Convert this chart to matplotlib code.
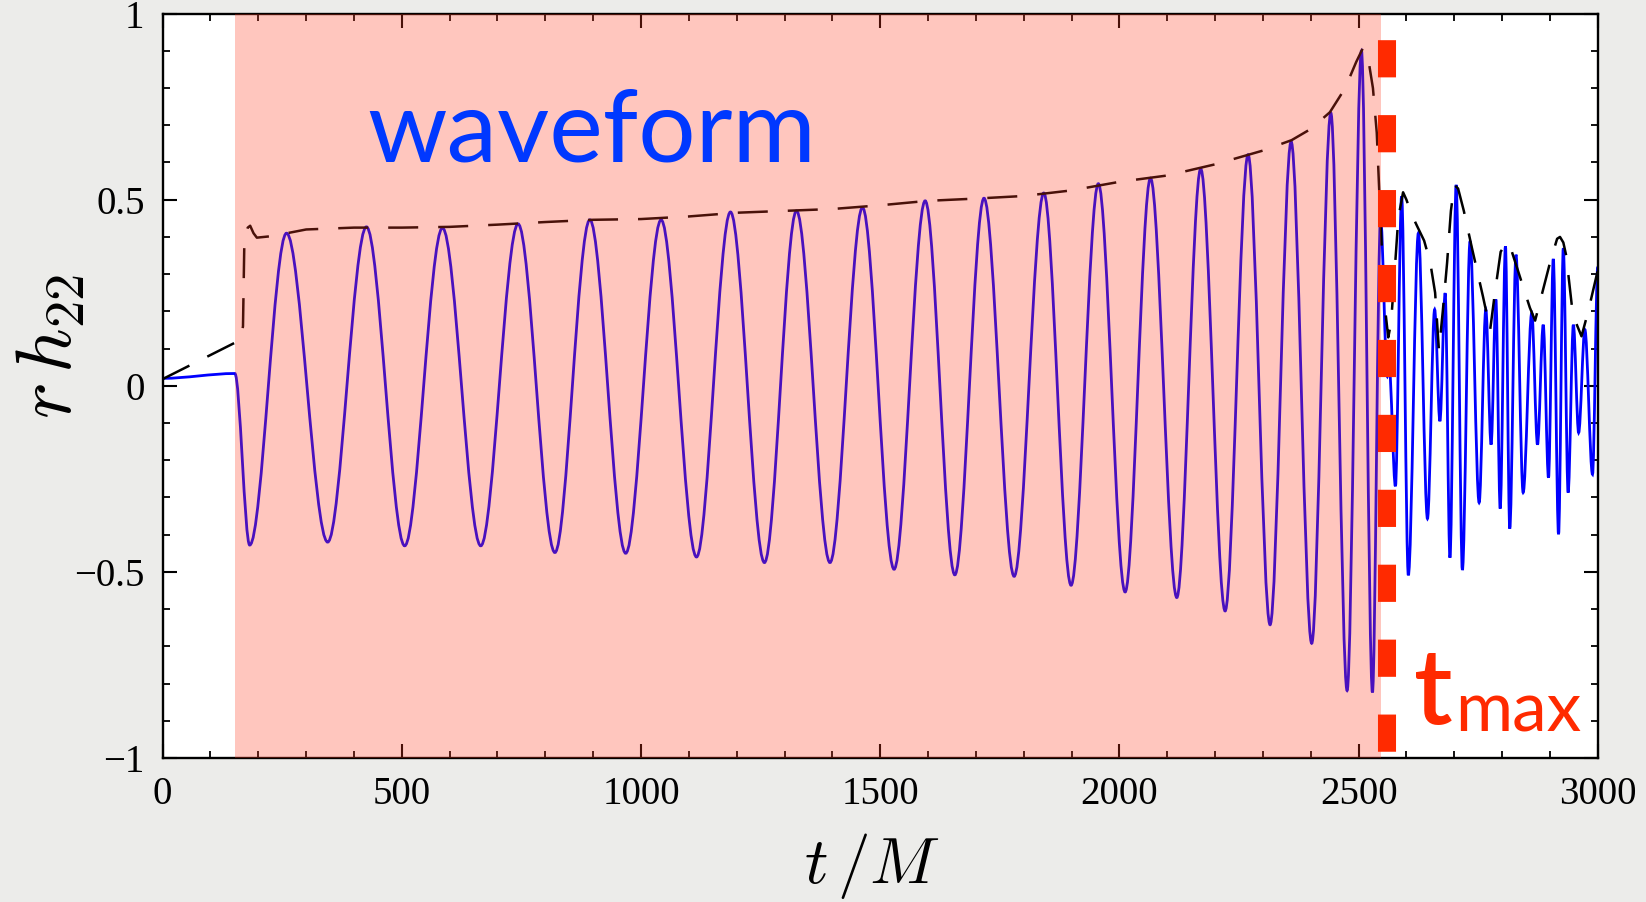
import numpy as np
import matplotlib
matplotlib.use("Agg")
import matplotlib.pyplot as plt
from matplotlib.path import Path
from matplotlib.patches import PathPatch

# rh22 waveform: turning points (t/M, amplitude), joined by smooth curves
wave_t = [0, 151, 182, 259, 345, 426, 506, 585, 665, 743, 820, 893, 968, 1042,
          1116, 1187, 1258, 1325, 1395, 1463, 1529, 1594, 1656, 1717, 1780, 1842,
          1899, 1956, 2012, 2065, 2120, 2170, 2221, 2269, 2315, 2359, 2402, 2442,
          2476, 2506, 2529, 2546, 2560, 2564, 2577, 2590, 2604, 2625, 2644, 2659,
          2670, 2681, 2691, 2704, 2717, 2733, 2752, 2766, 2777, 2787, 2796, 2807,
          2816, 2829, 2844, 2862, 2874, 2886, 2897, 2907, 2918, 2928, 2938, 2949,
          2960, 2973, 2989, 3000]
wave_h = [0.020, 0.033, -0.428, 0.410, -0.420, 0.427, -0.430, 0.424, -0.430, 0.435,
          -0.448, 0.446, -0.450, 0.446, -0.460, 0.467, -0.475, 0.470, -0.475, 0.479,
          -0.493, 0.497, -0.508, 0.504, -0.512, 0.518, -0.536, 0.543, -0.554, 0.558,
          -0.569, 0.583, -0.605, 0.621, -0.642, 0.656, -0.692, 0.733, -0.819, 0.900,
          -0.824, 0.450, 0.025, 0.050, -0.270, 0.509, -0.509, 0.410, -0.357, 0.205,
          -0.095, 0.249, -0.462, 0.540, -0.495, 0.388, -0.314, 0.205, -0.158, 0.232,
          -0.330, 0.375, -0.384, 0.352, -0.287, 0.196, -0.158, 0.164, -0.247, 0.341,
          -0.399, 0.370, -0.287, 0.164, -0.126, 0.151, -0.238, 0.320]

# amplitude envelope |rh22|
env_t = [0, 150, 163, 168, 171, 178, 183, 190, 197, 235, 260, 300, 400, 500, 600,
         700, 800, 900, 1000, 1100, 1200, 1300, 1400, 1500, 1600, 1700, 1800, 1900,
         2000, 2100, 2200, 2300, 2360, 2400, 2440, 2472, 2495, 2509, 2520, 2530,
         2538, 2544, 2550, 2556, 2562, 2568, 2575, 2583, 2593, 2600, 2611, 2622,
         2637, 2650, 2660, 2668, 2676, 2685, 2693, 2700, 2708, 2720, 2737, 2760,
         2775, 2785, 2797, 2809, 2818, 2833, 2858, 2869, 2880, 2900, 2915, 2921,
         2928, 2934, 2948, 2966, 2980, 3000]
env_h = [0.018, 0.115, 0.120, 0.160, 0.400, 0.425, 0.430, 0.410, 0.398, 0.403,
         0.410, 0.420, 0.425, 0.425, 0.427, 0.433, 0.440, 0.446, 0.448, 0.455,
         0.465, 0.470, 0.475, 0.485, 0.497, 0.503, 0.510, 0.525, 0.548, 0.565,
         0.595, 0.632, 0.660, 0.690, 0.735, 0.800, 0.870, 0.907, 0.880, 0.800,
         0.680, 0.500, 0.330, 0.200, 0.130, 0.170, 0.300, 0.450, 0.520, 0.500,
         0.460, 0.430, 0.390, 0.330, 0.250, 0.095, 0.200, 0.330, 0.470, 0.540,
         0.530, 0.470, 0.370, 0.240, 0.150, 0.250, 0.360, 0.385, 0.370, 0.310,
         0.210, 0.175, 0.230, 0.330, 0.395, 0.400, 0.385, 0.350, 0.190, 0.133,
         0.200, 0.310]

window = (151, 2546)   # shaded fit window
t_max = 2560           # peak time marker

x_ticks = [0, 500, 1000, 1500, 2000, 2500, 3000]
x_labels = ["0", "500", "1000", "1500", "2000", "2500", "3000"]
y_ticks = [-1, -0.5, 0, 0.5, 1]
y_labels = ["\u22121", "\u22120.5", "0", "0.5", "1"]


def smooth_path(ts, hs):
    # cubic segments with flat tangents at every turning point
    verts = [(ts[0], hs[0])]
    codes = [Path.MOVETO]
    for i in range(1, len(ts)):
        dt = ts[i] - ts[i - 1]
        verts += [(ts[i - 1] + dt / 3, hs[i - 1]), (ts[i] - dt / 3, hs[i]), (ts[i], hs[i])]
        codes += [Path.CURVE4] * 3
    return Path(verts, codes)


plt.rcParams["mathtext.fontset"] = "cm"
fig = plt.figure(figsize=(16.46, 9.02), dpi=100, facecolor="#ececea")
ax = fig.add_axes([0.0988, 0.1597, 0.8719, 0.8252])
ax.set_facecolor("white")

ax.add_patch(PathPatch(smooth_path(wave_t, wave_h), fill=False, edgecolor="#0000ff",
                       lw=2.0, zorder=2))
ax.plot(env_t, env_h, color="black", lw=1.8, dashes=(12, 8), zorder=2.2)

ax.axvspan(*window, facecolor="#ff3c22", alpha=0.29, lw=0, zorder=3)
ax.plot([t_max, t_max], [1, -1], color="#ff2a00", lw=13,
        linestyle=(2.7, (2.06, 2.09)), solid_capstyle="butt", zorder=4)

ax.set_xlim(0, 3000)
ax.set_ylim(-1, 1)
ax.set_xticks(x_ticks, x_labels)
ax.set_yticks(y_ticks, y_labels)
ax.set_xticks(np.arange(0, 3001, 100), minor=True)
ax.set_yticks(np.arange(-1, 1.01, 0.1), minor=True)
ax.tick_params(which="both", direction="in", top=True, right=True, colors="black")
ax.tick_params(which="major", length=10, width=1.5, labelsize=28, pad=13)
ax.tick_params(which="minor", length=5, width=1.3)
for lab in ax.get_xticklabels() + ax.get_yticklabels():
    lab.set_fontfamily("Liberation Serif")
for sp in ax.spines.values():
    sp.set_linewidth(1.7)

ax.set_xlabel(r"$t\,/M$", fontsize=47)
ax.xaxis.set_label_coords(0.494, -0.098)
ax.set_ylabel(r"$r\,h_{22}$", fontsize=56)
ax.yaxis.set_label_coords(-0.052, 0.553)

ax.text(427, 0.603, "waveform", color="#0038ff", fontsize=73, family="Lato",
        va="baseline", ha="left", zorder=5)
ax.text(2616, -0.909, "t", color="#ff2a00", fontsize=76, family="Lato",
        fontweight="semibold", va="baseline", ha="left", zorder=5)
ax.text(2702, -0.930, "max", color="#ff2a00", fontsize=50, family="Lato",
        va="baseline", ha="left", zorder=5)

fig.savefig("out.png", dpi=100, facecolor=fig.get_facecolor())
